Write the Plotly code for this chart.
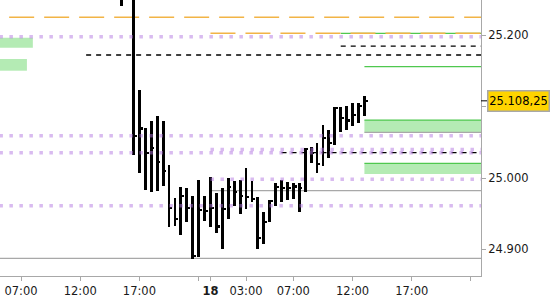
import plotly.graph_objects as go

# ---------------- data ----------------
bar_times = ["17 15:30", "17 16:30", "17 17:00", "17 17:30", "17 18:00", "17 18:30", "17 19:00",
             "17 19:30", "17 20:00", "17 20:30", "17 21:00", "17 21:30", "17 22:00", "17 22:30",
             "18 00:00", "18 00:30", "18 01:00", "18 01:30", "18 02:00", "18 02:30", "18 03:00",
             "18 03:30", "18 04:00", "18 04:30", "18 05:00", "18 05:30", "18 06:00", "18 06:30",
             "18 07:00", "18 07:30", "18 08:00", "18 08:30", "18 09:00", "18 09:30", "18 10:00",
             "18 10:30", "18 11:00", "18 11:30", "18 12:00", "18 12:30", "18 13:00"]
highs = [25265, 25270, 25123.5, 25070.5, 25080, 25087, 25080, 25018.25, 24972.5, 24987.5,
         24986.5, 24974.75, 24997.25, 24974.75, 25001, 24979, 24986, 25000, 24995.75, 24997.25,
         25013.5, 24995.75, 24973, 24952.75, 24969, 24993.5, 24997.25, 24994.75, 24993.5, 24992.5,
         25042, 25044, 25049.5, 25074.25, 25067.25, 25100, 25099.5, 25101, 25104.75, 25105.5, 25115]
lows = [25241.25, 25032.25, 25007.5, 24983.25, 24980.75, 24982.25, 24989.25, 24931.75, 24933, 24920,
        24938.75, 24886.5, 24889.5, 24940, 24931.75, 24923, 24900, 24942, 24960.75, 24949,
        24956, 24966.25, 24900, 24907, 24938.75, 24960.75, 24966, 24969, 24970, 24952.75,
        24980.75, 25021.5, 25007.5, 25016.75, 25028, 25047, 25064.5, 25067.25, 25073, 25077.5, 25087]
closes = [25255, 25059, 25070, 25035.5, 25042, 25023, 25010.25, 24957.5, 24942, 24975.25,
          24957.5, 24891, 24955, 24953.75, 24957.5, 24932.25, 24956, 24987.75, 24980.75, 24974.75,
          24973.75, 24970.5, 24915.5, 24938.75, 24968.25, 24987.75, 24986.5, 24986, 24988.75, 24986,
          25040.25, 25035.5, 25019.5, 25055.75, 25049.5, 25098.25, 25083.75, 25081.25, 25088.5, 25101, 25108.25]
last_price = 25108.25
last_label = "25.108,25"

x_tick_times = ["17 07:00", "17 12:00", "17 17:00", "17 22:00", "18 00:00", "18 03:00",
                "18 07:00", "18 12:00", "18 17:00", "18 22:00"]
x_tick_text = ["07:00", "12:00", "17:00", "", "<b>18</b>", "03:00", "07:00", "12:00", "17:00", ""]
y_tick_vals = [24900, 25000, 25100, 25200]
y_tick_text = ["24.900", "25.000", "", "25.200"]

# reference levels: (price, start time or None for full width)
purple_levels = [(25198.2, None), (25059.3, None), (25035.5, None), (25040.0, "18 00:00"),
                 (24998.2, "18 00:00"), (24961.2, None)]
orange_levels = [(25225.4, "17 06:00"), (25202.9, "18 00:00")]
green_levels = [(25202.9, "18 11:00"), (25156.1, "18 13:00")]
black_dash_levels = [(25172.5, "17 12:30"), (25185.1, "18 11:00"), (25035.5, "18 06:00")]
gray_levels = [(24982.2, "18 00:00"), (24887.4, None), (25064.0, "18 13:00")]
# zones: (bottom, top, start, end)  None = plot edge
zones = [(25182.7, 25196.8, None, "17 08:00"), (25150.5, 25166.9, None, "17 07:30"),
         (25064.0, 25081.3, "18 13:00", None), (25005.6, 25020.6, "18 13:00", None)]


def pos(s):
    """session hours (23:00-24:00 break removed)"""
    d, hm = s.split()
    h, m = map(int, hm.split(":"))
    t = h + m / 60
    if d == "18":
        t += 23
    return t


X_START, X_END = 5.2267, 45.845
Y_RANGE = [24862.6, 25249.65]

xs = [pos(t) for t in bar_times]
tick_h = 2.8  # close tick thickness in price units

fig = go.Figure()
fig.add_trace(go.Bar(x=xs, base=lows, y=[h - l for h, l in zip(highs, lows)],
                     width=0.24, offset=-0.12, marker=dict(color="black", line=dict(width=0)),
                     hoverinfo="skip", showlegend=False))
fig.add_trace(go.Bar(x=xs, base=[c - tick_h / 2 for c in closes], y=[tick_h] * len(closes),
                     width=0.27, offset=0, marker=dict(color="black", line=dict(width=0)),
                     hoverinfo="skip", showlegend=False))

shapes = []


def xr(s, default):
    return default if s is None else pos(s)


for lo, hi, s, e in zones:
    shapes.append(dict(type="rect", xref="x", yref="y", x0=xr(s, X_START), x1=xr(e, X_END),
                       y0=lo, y1=hi, fillcolor="#B4EBB4", line=dict(width=0), layer="below"))
for lo, hi, s, e in zones[2:]:
    shapes.append(dict(type="line", xref="x", yref="y", x0=xr(s, X_START), x1=xr(e, X_END),
                       y0=hi, y1=hi, line=dict(color="#4FC84F", width=1.3), layer="below"))

for v, s in gray_levels:
    shapes.append(dict(type="line", xref="x", yref="y", x0=xr(s, X_START), x1=X_END, y0=v, y1=v,
                       line=dict(color="#A8A8A8", width=1.3), layer="below"))
for v, s in green_levels:
    shapes.append(dict(type="line", xref="x", yref="y", x0=xr(s, X_START), x1=X_END, y0=v, y1=v,
                       line=dict(color="#4FC84F", width=1.3), layer="below"))
for v, s in orange_levels:
    shapes.append(dict(type="line", xref="x", yref="y", x0=xr(s, X_START), x1=X_END, y0=v, y1=v,
                       line=dict(color="#F2B446", width=1.5, dash="25px,10px"), layer="below"))
for v, s in black_dash_levels:
    shapes.append(dict(type="line", xref="x", yref="y", x0=xr(s, X_START), x1=X_END, y0=v, y1=v,
                       line=dict(color="black", width=1.3, dash="5px,5px"), layer="above"))
for v, s in purple_levels:
    shapes.append(dict(type="line", xref="x", yref="y", x0=xr(s, X_START - 0.05), x1=X_END, y0=v, y1=v,
                       line=dict(color="rgba(180,120,225,0.5)", width=3.6, dash="3.5px,6.5px"),
                       layer="above"))

# last price marker
shapes.append(dict(type="line", xref="paper", yref="y", x0=1, x1=487 / 481, y0=last_price,
                   y1=last_price, line=dict(color="black", width=1)))

fig.update_layout(
    width=550, height=300,
    margin=dict(l=0, r=69, t=0, b=24),
    paper_bgcolor="white", plot_bgcolor="white",
    barmode="overlay", bargap=0,
    shapes=shapes,
    font=dict(family="DejaVu Sans", size=11.5, color="#1a1a1a"),
    xaxis=dict(range=[X_START, X_END], showgrid=False, zeroline=False, showline=True,
               linecolor="#A8A8A8", linewidth=1, ticks="outside", ticklen=4, tickcolor="#A8A8A8",
               tickvals=[pos(t) for t in x_tick_times], ticktext=x_tick_text,
               tickfont=dict(family="DejaVu Sans", size=11.5, color="#1a1a1a")),
    yaxis=dict(range=Y_RANGE, side="right", showgrid=False, zeroline=False, showline=True,
               linecolor="#A8A8A8", linewidth=1, ticks="outside", ticklen=4, tickcolor="#A8A8A8",
               tickvals=y_tick_vals, ticktext=y_tick_text,
               tickfont=dict(family="DejaVu Sans", size=11.5, color="#1a1a1a")),
    annotations=[dict(xref="paper", x=487 / 481, xanchor="left", yref="y", y=last_price,
                      yanchor="middle", text=last_label, showarrow=False,
                      font=dict(family="DejaVu Sans", size=11.5, color="black"),
                      bgcolor="#FFD400", bordercolor="#A8A8A8", borderwidth=1.5, borderpad=1.5,
                      width=57, height=16)],
)

fig.write_html("out.html", config={"displayModeBar": False})
